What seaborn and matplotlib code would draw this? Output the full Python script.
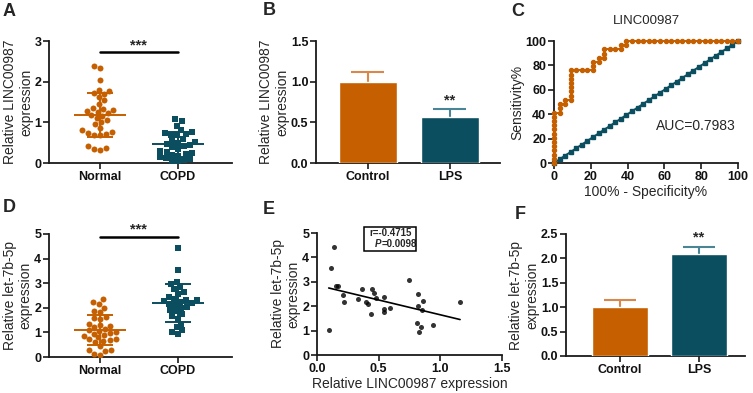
import matplotlib
matplotlib.use("Agg")
import matplotlib.pyplot as plt
from matplotlib.patches import Rectangle
import numpy as np
import pandas as pd
import seaborn as sns

ORANGE = "#C55F00"
TEAL = "#0A4E5F"
ORANGE_ERR = "#D8884A"
TEAL_ERR = "#4A8595"

GROUPS_DOT = ["Normal", "COPD"]
GROUPS_BAR = ["Control", "LPS"]

# A: LINC00987 in tissue
linc_normal = [2.39, 2.33, 2.05, 1.80, 1.77, 1.72, 1.70, 1.62, 1.55, 1.45, 1.35,
               1.33, 1.30, 1.28, 1.25, 1.22, 1.18, 1.15, 1.10, 1.05, 1.00, 0.95,
               0.85, 0.80, 0.76, 0.75, 0.72, 0.70, 0.70, 0.42, 0.38, 0.35, 0.33]
linc_copd = [1.07, 1.03, 0.92, 0.80, 0.77, 0.75, 0.72, 0.70, 0.68, 0.60, 0.55,
             0.52, 0.50, 0.47, 0.45, 0.42, 0.40, 0.35, 0.30, 0.28, 0.25, 0.22,
             0.20, 0.18, 0.15, 0.12, 0.10, 0.08, 0.05, 0.02]

# B: LINC00987 in cells
linc_bar_mean = [1.0, 0.57]
linc_bar_sem = [0.12, 0.09]

# C: ROC (counts of negatives / positives passed)
ROC_NEG = 33
ROC_POS = 29
roc_fpr_n = [0, 0, 0, 0, 0, 0, 0, 0, 0, 0, 0, 0, 0,
             1, 1, 1, 2, 2,
             3, 3, 3, 3, 3, 3, 3, 3,
             4, 5, 6, 7, 7, 7, 8, 8, 9, 9, 9,
             10, 11, 12, 12, 13, 13,
             14, 15, 16, 17, 18, 19, 20, 21, 22, 23, 24, 25, 26, 27, 28, 29,
             30, 31, 32, 33]
roc_tpr_n = [0, 1, 2, 3, 4, 5, 6, 7, 8, 9, 10, 11, 12,
             12, 13, 14, 14, 15,
             15, 16, 17, 18, 19, 20, 21, 22,
             22, 22, 22, 22, 23, 24, 24, 25, 25, 26, 27,
             27, 27, 27, 28, 28, 29,
             29, 29, 29, 29, 29, 29, 29, 29, 29, 29, 29, 29, 29, 29, 29, 29,
             29, 29, 29, 29]
auc_label = "AUC=0.7983"

# D: let-7b-5p in tissue
let7_normal = [2.35, 2.22, 2.15, 2.00, 1.85, 1.82, 1.62, 1.60, 1.55, 1.35, 1.30,
               1.28, 1.20, 1.15, 1.10, 1.05, 1.00, 0.98, 0.95, 0.90, 0.85, 0.80,
               0.75, 0.72, 0.70, 0.65, 0.60, 0.45, 0.30, 0.28, 0.25, 0.12, 0.10]
let7_copd = [4.42, 3.55, 3.05, 2.95, 2.85, 2.75, 2.65, 2.55, 2.45, 2.35, 2.32,
             2.30, 2.28, 2.25, 2.20, 2.15, 2.10, 2.05, 2.00, 1.90, 1.85, 1.75,
             1.65, 1.55, 1.35, 1.20, 1.10, 1.00, 0.92]

# E: correlation
corr_linc = [0.095, 0.11, 0.135, 0.154, 0.17, 0.21, 0.22, 0.33, 0.365, 0.40,
             0.41, 0.446, 0.465, 0.48, 0.438, 0.54, 0.546, 0.546, 0.595, 0.743,
             0.82, 0.82, 0.81, 0.857, 0.85, 0.83, 0.843, 0.94, 1.16]
corr_let7 = [1.03, 3.58, 4.42, 2.84, 2.84, 2.47, 2.19, 2.30, 2.71, 2.19,
             2.08, 2.71, 2.56, 2.33, 1.67, 2.36, 1.89, 1.78, 1.92, 3.08,
             2.49, 1.99, 1.33, 2.23, 1.85, 0.96, 1.16, 1.23, 2.19]
corr_r = "r=-0.4715"
corr_p = "=0.0098"

# F: let-7b-5p in cells
let7_bar_mean = [1.0, 2.08]
let7_bar_sem = [0.15, 0.15]

W, H = 753, 393

sns.set_theme(style="ticks")
plt.rcParams["font.family"] = ["Liberation Sans", "DejaVu Sans"]
plt.rcParams["axes.edgecolor"] = "#1a1a1a"
plt.rcParams["axes.linewidth"] = 1.3

fig = plt.figure(figsize=(W / 100, H / 100), dpi=100)


def add_ax(left, right, top, bottom):
    return fig.add_axes([left / W, 1 - bottom / H, (right - left) / W, (bottom - top) / H])


def style_ax(ax, ylabel, xlabel="", tick_size=9):
    sns.despine(ax=ax)
    ax.set_ylabel(ylabel, fontsize=10, labelpad=1)
    ax.set_xlabel(xlabel, fontsize=10, labelpad=2)
    ax.tick_params(axis="both", length=4, width=1.2, color="#1a1a1a", pad=1.5,
                   labelsize=tick_size, labelcolor="#111111")
    for lab in ax.get_xticklabels() + ax.get_yticklabels():
        lab.set_fontweight("bold")


def dot_panel(ax, normal, copd, ymax, ylabel, sig_y):
    for name, vals, color, marker in [("Normal", normal, ORANGE, "o"), ("COPD", copd, TEAL, "s")]:
        df = pd.DataFrame({"group": [name] * len(vals), "value": vals})
        sns.swarmplot(data=df, x="group", y="value", order=GROUPS_DOT, color=color,
                      marker=marker, size=4.3, linewidth=0, ax=ax, zorder=3)
    for i, (vals, color) in enumerate([(normal, ORANGE), (copd, TEAL)]):
        m = np.mean(vals)
        sd = np.std(vals, ddof=1)
        ax.hlines(m, i - 0.33, i + 0.33, color=color, lw=1.4, zorder=4)
        ax.vlines(i, m - sd, m + sd, color=color, lw=1.4, zorder=4)
        ax.hlines([m - sd, m + sd], i - 0.17, i + 0.17, color=color, lw=1.4, zorder=4)
    ax.set_xlim(-0.65, 1.69)
    ax.set_ylim(0, ymax)
    ax.set_yticks(range(0, ymax + 1))
    ax.plot([0, 1], [sig_y, sig_y], color="black", lw=1.8, clip_on=False)
    ax.text(0.5, sig_y, "***", ha="center", va="bottom", fontsize=10.5,
            fontweight="bold")
    style_ax(ax, ylabel)


def bar_panel(ax, means, sems, ymax, step, ylabel, star_idx, star_y, xlim):
    df = pd.DataFrame({"group": GROUPS_BAR, "value": means})
    sns.barplot(data=df, x="group", y="value", hue="group", palette=[ORANGE, TEAL],
                width=0.7, saturation=1, legend=False, ax=ax, zorder=3)
    for i, ec in enumerate([ORANGE_ERR, TEAL_ERR]):
        ax.vlines(i, means[i], means[i] + sems[i], color=ec, lw=1.5, zorder=2)
        ax.hlines(means[i] + sems[i], i - 0.2, i + 0.2, color=ec, lw=1.5, zorder=2)
    ax.text(star_idx, star_y, "**", ha="center", va="center", fontsize=10.5,
            fontweight="bold")
    ax.set_xlim(*xlim)
    ax.set_ylim(0, ymax)
    ticks = np.arange(0, ymax + 1e-9, step)
    ax.set_yticks(ticks)
    ax.set_yticklabels([f"{t:.1f}" for t in ticks])
    style_ax(ax, ylabel)


# Panel A
axA = add_ax(49, 232, 41, 163)
dot_panel(axA, linc_normal, linc_copd, 3, "Relative LINC00987\nexpression", 2.73)

# Panel B
axB = add_ax(316, 500, 41, 163)
bar_panel(axB, linc_bar_mean, linc_bar_sem, 1.5, 0.5, "Relative LINC00987\nexpression",
          1, 0.77, (-0.63, 1.61))

# Panel C
axC = add_ax(554, 738, 41, 163)
fpr = [100 * v / ROC_NEG for v in roc_fpr_n]
tpr = [100 * v / ROC_POS for v in roc_tpr_n]
diag_x = sorted(set(fpr))
axC.plot(diag_x, diag_x, color=TEAL, lw=1.4, marker="s", ms=2.8, clip_on=False, zorder=3)
axC.plot(fpr, tpr, color=ORANGE, lw=1.4, marker="o", ms=2.9, clip_on=False, zorder=4)
axC.set_xlim(0, 100)
axC.set_ylim(0, 100)
axC.set_xticks(range(0, 101, 20))
axC.set_yticks(range(0, 101, 20))
axC.set_title("LINC00987", fontsize=9.5, pad=12)
axC.text(99, 30, auc_label, ha="right", va="center", fontsize=10)
style_ax(axC, "Sensitivity%", "100% - Specificity%")

# Panel D
axD = add_ax(49, 232, 234, 357)
dot_panel(axD, let7_normal, let7_copd, 5, "Relative let-7b-5p\nexpression", 4.88)

# Panel E
axE = add_ax(317, 502, 233, 355)
sns.regplot(x=corr_linc, y=corr_let7, ci=None, ax=axE, color="black",
            scatter_kws={"s": 13, "linewidths": 0, "zorder": 3},
            line_kws={"lw": 1.2, "zorder": 2})
axE.set_xlim(0, 1.5)
axE.set_ylim(0, 5)
axE.set_xticks([0, 0.5, 1.0, 1.5])
axE.set_xticklabels(["0.0", "0.5", "1.0", "1.5"])
axE.set_yticks(range(0, 6))
axE.add_patch(Rectangle((0.385, 4.28), 0.42, 0.98, fill=False, ec="black", lw=1.1,
                        clip_on=False, zorder=5))
axE.text(0.595, 5.02, corr_r, ha="center", va="center", fontsize=7, fontweight="bold")
axE.text(0.525, 4.56, "P", ha="right", va="center", fontsize=7, fontweight="bold",
         style="italic")
axE.text(0.525, 4.56, corr_p, ha="left", va="center", fontsize=7, fontweight="bold")
style_ax(axE, "Relative let-7b-5p\nexpression", "Relative LINC00987 expression")

# Panel F
axF = add_ax(566, 745, 234, 356)
bar_panel(axF, let7_bar_mean, let7_bar_sem, 2.5, 0.5, "Relative let-7b-5p\nexpression",
          1, 2.42, (-0.68, 1.58))

for letter, (px, py) in zip("ABCDEF", [(3, 3), (263, 2), (511, 3), (3, 199), (263, 201), (515, 206)]):
    fig.text(px / W, 1 - py / H, letter, fontsize=13, fontweight="bold", va="top", ha="left")

fig.savefig("out.png", dpi=100)
